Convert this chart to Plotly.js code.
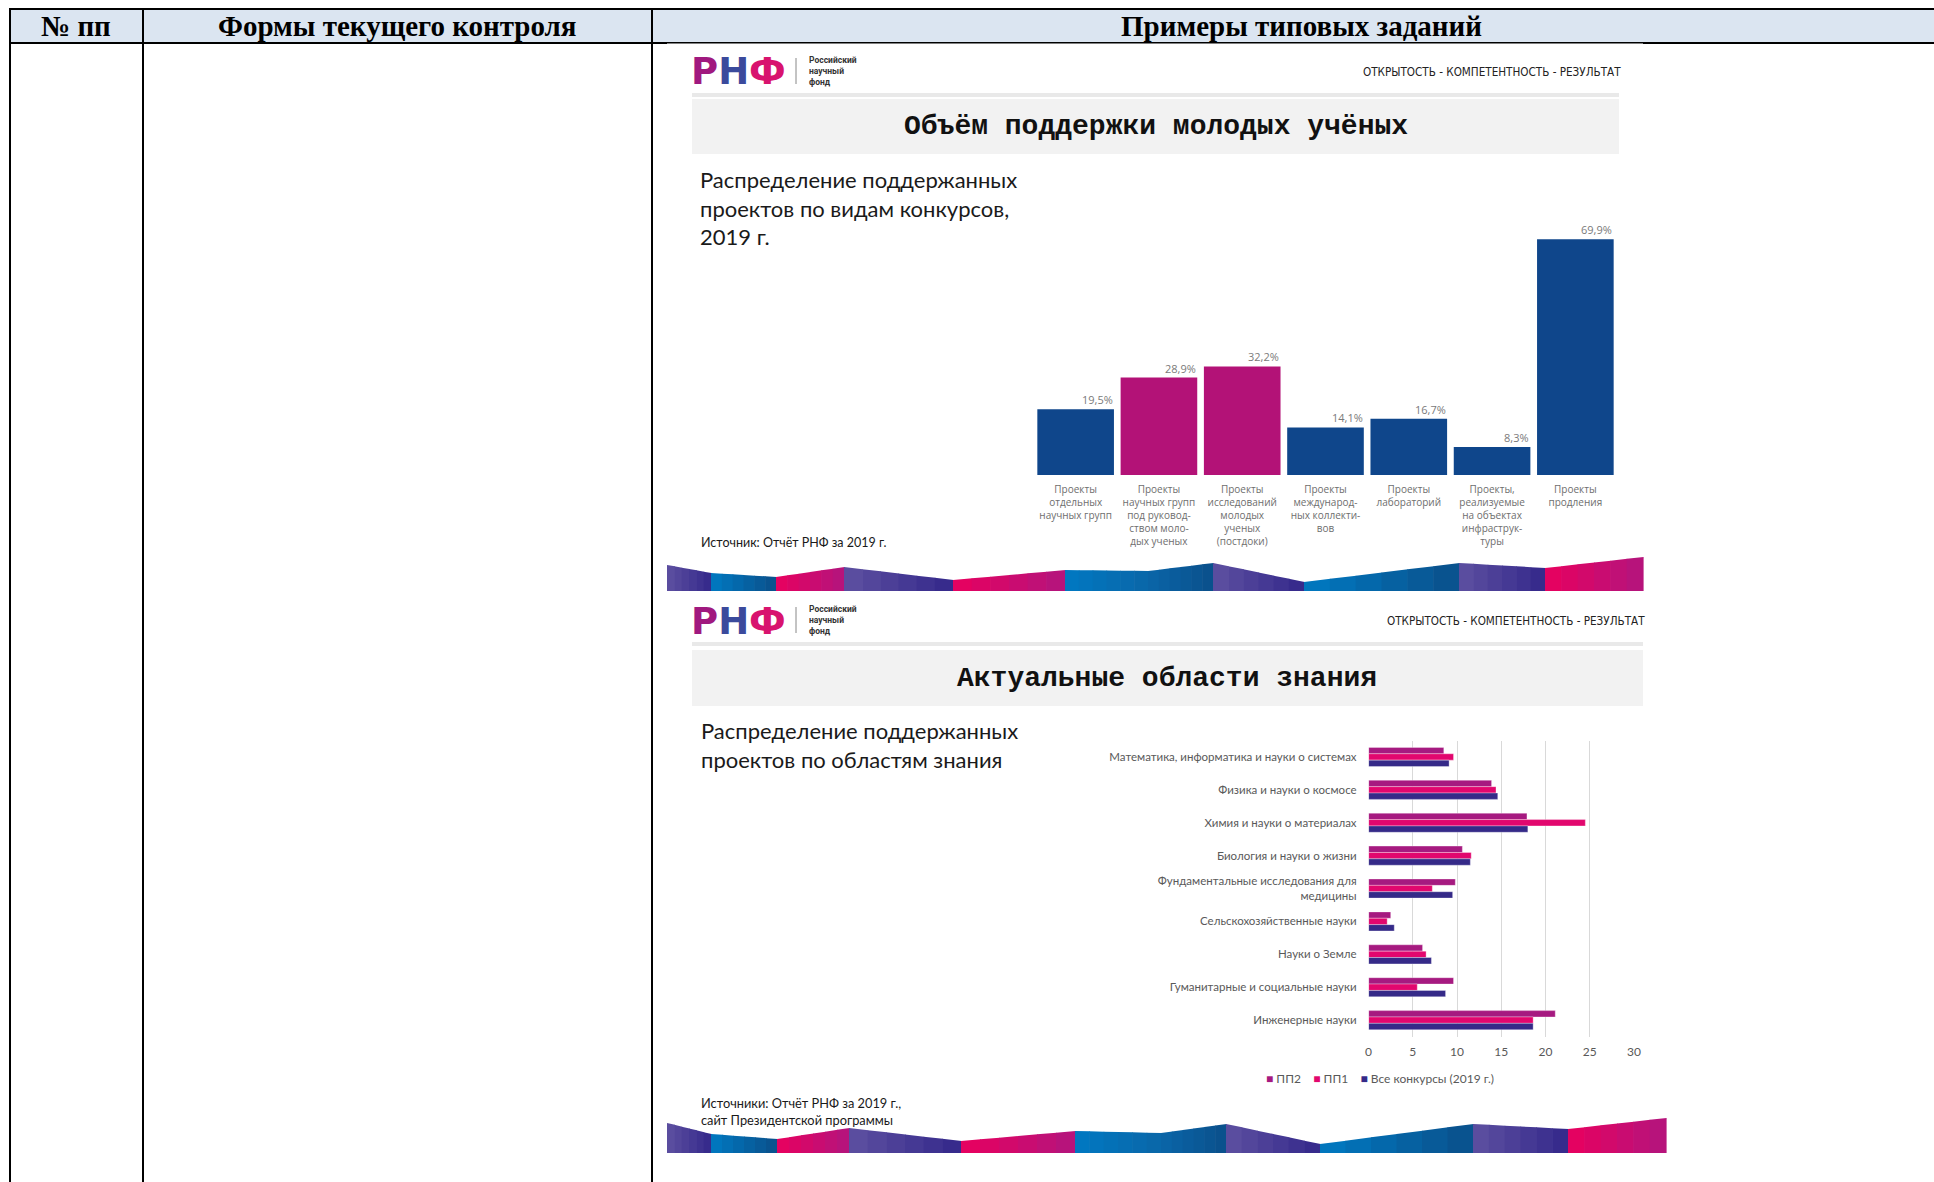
<!DOCTYPE html>
<html>
<head>
<meta charset="utf-8">
<script src="https://cdn.plot.ly/plotly-3.0.1.min.js"></script>
<style>
html,body{margin:0;padding:0;background:#fff;}
#chart{width:1934px;height:1182px;}
</style>
</head>
<body>
<div id="chart"></div>
<script>
// ---------- DATA ----------
const competitionCategories = [
  "Проекты<br>отдельных<br>научных групп",
  "Проекты<br>научных групп<br>под руковод-<br>ством моло-<br>дых ученых",
  "Проекты<br>исследований<br>молодых<br>ученых<br>(постдоки)",
  "Проекты<br>международ-<br>ных коллекти-<br>вов",
  "Проекты<br>лабораторий",
  "Проекты,<br>реализуемые<br>на объектах<br>инфраструк-<br>туры",
  "Проекты<br>продления"
];
const competitionShares = [19.5, 28.9, 32.2, 14.1, 16.7, 8.3, 69.9];

const fieldCategories = [
  "Математика, информатика и науки о системах",
  "Физика и науки о космосе",
  "Химия и науки о материалах",
  "Биология и науки о жизни",
  "Фундаментальные исследования для<br>медицины",
  "Сельскохозяйственные науки",
  "Науки о Земле",
  "Гуманитарные и социальные науки",
  "Инженерные науки"
];
const seriesNames = ["ПП2", "ПП1", "Все конкурсы (2019 г.)"];
const pp2Values = [8.5, 13.9, 17.9, 10.6, 9.8, 2.5, 6.1, 9.6, 21.1];
const pp1Values = [9.6, 14.4, 24.5, 11.6, 7.2, 2.1, 6.5, 5.5, 18.6];
const allValues = [9.1, 14.6, 18.0, 11.5, 9.5, 2.9, 7.1, 8.7, 18.6];
const fieldTickValues = [0, 5, 10, 15, 20, 25, 30];

// ---------- STYLES ----------
const BLUE = "#0f468b", MAGENTA = "#b31277";
const competitionColors = [BLUE, MAGENTA, MAGENTA, BLUE, BLUE, BLUE, BLUE];
const seriesColors = ["#a61a80", "#e2076e", "#352a88"];

const W = 1934, H = 1182;
const X = p => p / W;
const Y = p => 1 - p / H;

const shapes = [];
const annotations = [];

function rect(x0, y0, x1, y1, fill) {
  shapes.push({type: "rect", xref: "paper", yref: "paper",
    x0: X(x0), x1: X(x1), y0: Y(y1), y1: Y(y0),
    fillcolor: fill, line: {width: 0}, layer: "below"});
}
function line(x0, y0, x1, y1, color, w) {
  shapes.push({type: "line", xref: "paper", yref: "paper",
    x0: X(x0), x1: X(x1), y0: Y(y0), y1: Y(y1),
    line: {color: color, width: w}, layer: "below"});
}
function text(x, y, t, font, xanchor, align) {
  annotations.push({xref: "paper", yref: "paper", x: X(x), y: Y(y), text: t,
    showarrow: false, xanchor: xanchor || "left", yanchor: "middle",
    align: align || "left", font: font});
}
function hex2rgb(h) { return [1,3,5].map(i => parseInt(h.substr(i,2),16)); }
function mix(a, b, t) {
  const A = hex2rgb(a), B = hex2rgb(b);
  return "rgb(" + A.map((v,i) => Math.round(v + (B[i]-v)*t)).join(",") + ")";
}
// decorative band made of colored polygons with a stepped gradient
function band(points, bottom, colors) {
  const N = 6;
  for (let s = 0; s < points.length - 1; s++) {
    const [xa, ya] = points[s], [xb, yb] = points[s+1];
    const c = colors[s] || colors[colors.length - 1];
    for (let k = 0; k < N; k++) {
      const t0 = k / N, t1 = (k + 1) / N;
      const x0 = xa + (xb - xa) * t0, x1 = xa + (xb - xa) * t1 + 0.6;
      const y0 = ya + (yb - ya) * t0, y1 = ya + (yb - ya) * t1;
      const p = "M" + X(x0) + "," + Y(bottom) + " L" + X(x0) + "," + Y(y0) +
        " L" + X(x1) + "," + Y(y1) + " L" + X(x1) + "," + Y(bottom) + " Z";
      shapes.push({type: "path", xref: "paper", yref: "paper", path: p,
        fillcolor: mix(c[0], c[1], (k + 0.5) / N),
        line: {width: 0}, layer: "above"});
    }
  }
}
const PURPLE = ["#5d50a1", "#33288a"], PINK = ["#e8005e", "#b3157e"];
const BLU = ["#0079c2", "#0a4f8a"], BLU_A = ["#0079c2", "#0a66a8"], BLU_B = ["#0a66a8", "#0a4f8a"];
const bandColors = [PURPLE, BLU, PINK, PURPLE, PINK, BLU_A, BLU_B, PURPLE, BLU, PURPLE, PINK];

// ---------- TABLE ----------
rect(10, 9, 1934, 43, "#dbe5f1");
line(9, 9, 1934, 9, "#000", 2);
line(9, 43, 1934, 43, "#000", 2);
line(10, 8, 10, 1182, "#000", 2);
line(143, 8, 143, 1182, "#000", 2);
line(652, 8, 652, 1182, "#000", 2);
const headFont = {family: "Liberation Serif, Times New Roman, serif", size: 29, color: "#000", weight: 700};
text(76, 26.5, "№ пп", headFont, "center");
text(397, 26.5, "Формы текущего контроля", headFont, "center");
text(1301, 26.5, "Примеры типовых заданий", headFont, "center");

// ---------- SLIDES ----------
rect(667, 43.6, 1643, 591, "#ffffff");
rect(667, 593, 1666, 1153, "#ffffff");

function slideHeader(yLogo, mottoRight, boxRight, yLine, yBox0, yBox1, title, titleX) {
  text(689, yLogo + 1,
    '<span style="color:#a0197f">Р</span><span style="color:#3b4a9c">Н</span><span style="color:#d8136e">Ф</span>',
    {family: "DejaVu Sans, sans-serif", size: 37, weight: 700, color: "#000"});
  line(796, yLogo - 13, 796, yLogo + 13, "#888", 1);
  text(807, yLogo, "Российский<br>научный<br>фонд",
    {family: "Roboto, sans-serif", size: 8.5, weight: 700, color: "#333"});
  text(mottoRight, yLogo + 1,
    '<span style="font-stretch:condensed">ОТКРЫТОСТЬ - КОМПЕТЕНТНОСТЬ - РЕЗУЛЬТАТ</span>',
    {family: "Liberation Sans Narrow, DejaVu Sans Condensed, Roboto, sans-serif", size: 11.6, color: "#222"}, "right");
  rect(692, yLine - 2, boxRight, yLine + 2, "#e9e9e9");
  rect(692, yBox0, boxRight, yBox1, "#f2f2f2");
  text(titleX, (yBox0 + yBox1) / 2, title,
    {family: "Liberation Mono, Courier New, monospace", size: 28, weight: 700, color: "#111"}, "center");
}
slideHeader(71, 1623, 1619, 95, 99, 154, "Объём поддержки молодых учёных", 1156);
slideHeader(620, 1647, 1643, 644, 650, 706, "Актуальные области знания", 1167);

const subFont = {family: "Lato, Open Sans, sans-serif", size: 22, color: "#1a1a1a"};
text(698, 208.5, "Распределение поддержанных<br>проектов по видам конкурсов,<br>2019 г.", subFont);
text(699, 745, "Распределение поддержанных<br>проектов по областям знания", subFont);
text(699, 542, "Источник: Отчёт РНФ за 2019 г.", {family: "Lato, sans-serif", size: 12.5, color: "#1a1a1a"});
text(699, 1111.5, "Источники: Отчёт РНФ за 2019 г.,<br>сайт Президентской программы", {family: "Lato, sans-serif", size: 12.8, color: "#1a1a1a"});

band([[667,565],[711,573],[776,577],[844,567],[953,580],[1065,570],[1148,571],[1213,563],[1304,582],[1459,563],[1545,568],[1643,557]], 591, bandColors);
band([[667,1123],[711,1134],[777,1139],[849,1128],[961,1141],[1075,1131],[1161,1133],[1226,1124],[1320,1144],[1473,1124],[1568,1129],[1666,1118]], 1153, bandColors);

// ---------- VALUE LABELS (chart 1) ----------
competitionShares.forEach((v, i) => {
  annotations.push({xref: "x", yref: "y", x: competitionCategories[i], y: v,
    text: v.toFixed(1).replace(".", ",") + "%", showarrow: false,
    xanchor: "right", yanchor: "bottom", xshift: 39, yshift: 0,
    font: {family: "Open Sans, sans-serif", size: 11, color: "#7a7a7a"}});
});

// ---------- LEGEND (chart 2), built from the series names and colours ----------
text(1380, 1078,
  seriesNames.map((n, i) => '<span style="color:' + seriesColors[i] + '">■</span> ' + n).join("    "),
  {family: "Lato, sans-serif", size: 12, color: "#595959"}, "center");

// ---------- TRACES ----------
const traces = [
  {type: "bar", x: competitionCategories, y: competitionShares, xaxis: "x", yaxis: "y",
   width: 0.92, marker: {color: competitionColors}, showlegend: false, hoverinfo: "skip"}
];
[pp2Values, pp1Values, allValues].forEach((vals, i) => {
  traces.push({type: "bar", orientation: "h", y: fieldCategories, x: vals,
    xaxis: "x2", yaxis: "y2", name: seriesNames[i], showlegend: false,
    marker: {color: seriesColors[i], line: {width: 0.6, color: "rgba(255,255,255,0.55)"}},
    hoverinfo: "skip"});
});

const layout = {
  width: W, height: H, margin: {l: 0, r: 0, t: 0, b: 0},
  paper_bgcolor: "#ffffff", plot_bgcolor: "rgba(0,0,0,0)",
  showlegend: false,
  barmode: "group", bargap: 0.42, bargroupgap: 0,
  xaxis: {domain: [X(1034), X(1617)], anchor: "y", type: "category",
    showgrid: false, zeroline: false, showline: false, ticks: "",
    ticklabelstandoff: 7,
    tickfont: {family: "Open Sans, sans-serif", size: 10, color: "#6e6e6e"}, fixedrange: true},
  yaxis: {domain: [Y(475), Y(222)], anchor: "x", range: [0, 75], visible: false, fixedrange: true},
  xaxis2: {domain: [X(1368.6), X(1634)], anchor: "y2", range: [0, 30],
    tickvals: fieldTickValues, showgrid: true, gridcolor: "#d9d9d9", gridwidth: 1,
    zeroline: false, showline: false, ticks: "", ticklabelstandoff: 6,
    tickfont: {family: "Lato, sans-serif", size: 12, color: "#595959"}, fixedrange: true},
  yaxis2: {domain: [Y(1036.6), Y(740.5)], anchor: "x2", type: "category", autorange: "reversed",
    showgrid: false, zeroline: false, showline: false, ticks: "", ticklabelstandoff: 11,
    tickfont: {family: "Lato, sans-serif", size: 11.5, color: "#595959"}, fixedrange: true},
  shapes: shapes,
  annotations: annotations
};

Plotly.newPlot("chart", traces, layout, {displayModeBar: false, staticPlot: true});
</script>
</body>
</html>
